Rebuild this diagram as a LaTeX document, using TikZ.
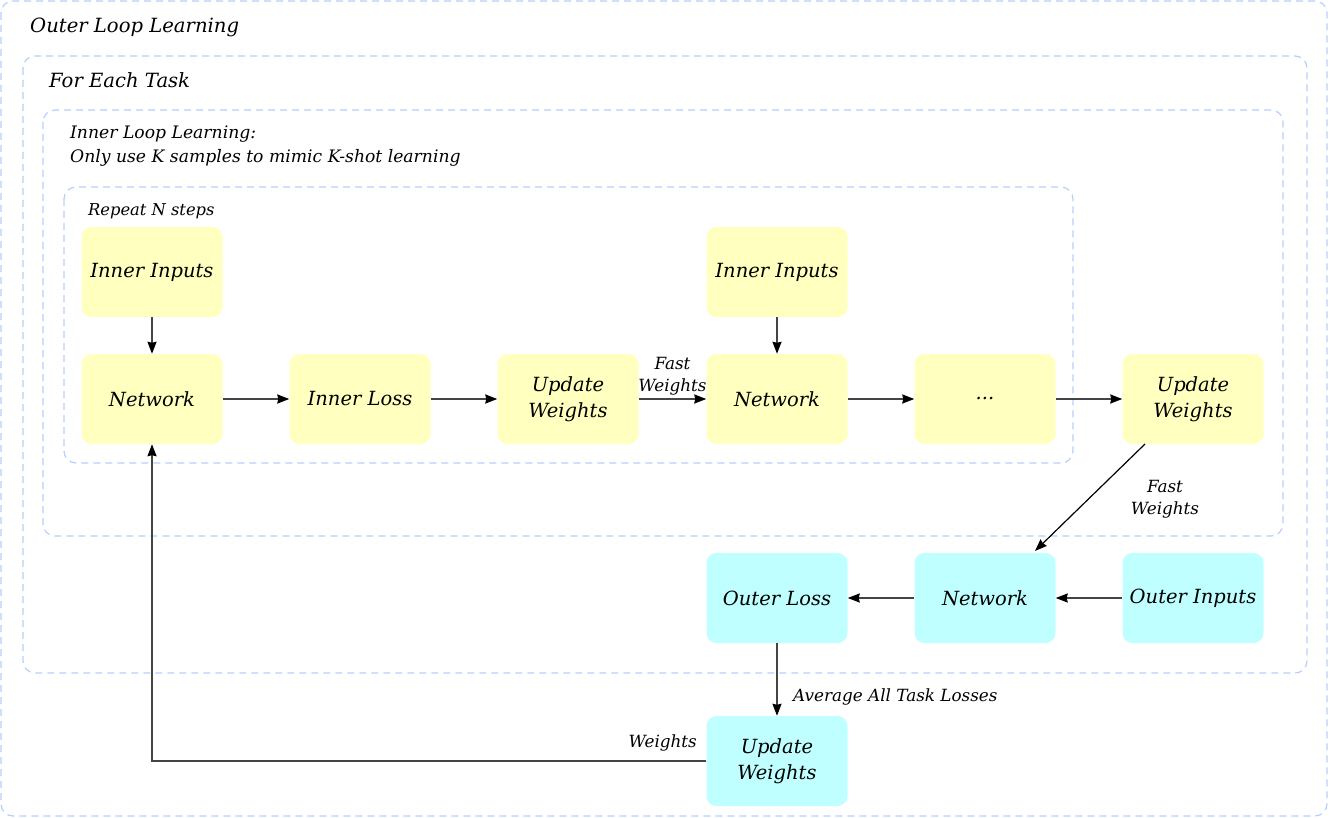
\documentclass[tikz,border=0pt]{standalone}
\usepackage{fontspec}
\setmainfont{DejaVu Serif}
\usetikzlibrary{arrows.meta}
\definecolor{dashblue}{HTML}{B3D0FA}
\definecolor{yel}{HTML}{FFFFC0}
\definecolor{cya}{HTML}{C0FFFF}
\definecolor{ln}{HTML}{444444}
\tikzset{
  container/.style={draw=dashblue, line width=1.2pt, dash pattern=on 7pt off 5pt, rounded corners=12pt},
  ybox/.style={fill=yel, rounded corners=10pt, minimum width=141pt, minimum height=90pt, inner sep=0pt, align=center, font=\fontsize{19.5}{26}\selectfont\itshape},
  cbox/.style={ybox, fill=cya},
  arr/.style={draw=ln, line width=1.6pt, -{Stealth[length=12pt,width=9pt,inset=1pt,color=black]}},
  lbl/.style={font=\fontsize{16.8}{22}\selectfont\itshape, align=center, inner sep=0pt},
  ttl/.style={anchor=base west, inner sep=0pt}
}
\begin{document}
\begin{tikzpicture}[x=1pt,y=-1pt]
\useasboundingbox (0,0) rectangle (1329,818);
\draw[container] (1,1) rectangle (1327,816);
\draw[container] (23,56) rectangle (1307,673);
\draw[container] (43,110) rectangle (1283,536);
\draw[container] (64,187) rectangle (1073,463);
\node[ttl, font=\fontsize{19.6}{24}\selectfont\itshape] (t1) at (30,33) {Outer Loop Learning};
\node[ttl, font=\fontsize{19.6}{24}\selectfont\itshape] (t2) at (49,88) {For Each Task};
\node[ttl, font=\fontsize{17.2}{22}\selectfont\itshape] (t3) at (70,139) {Inner Loop Learning:};
\node[ttl, font=\fontsize{17.2}{22}\selectfont\itshape] (t4) at (70,163) {Only use K samples to mimic K-shot learning};
\node[ttl, font=\fontsize{16.3}{20}\selectfont\itshape] (t5) at (88,216) {Repeat N steps};

\node[ybox] (ii1) at (152,272) {Inner Inputs};
\node[ybox] (n1) at (152,399) {Network};
\node[ybox] (il) at (360,399) {Inner Loss};
\node[ybox] (uw1) at (568,399) {Update\\Weights};
\node[ybox] (ii2) at (777,272) {Inner Inputs};
\node[ybox] (n2) at (777,399) {Network};
\node[ybox] (dots) at (985,399) {...};
\node[ybox] (uw2) at (1193,399) {Update\\Weights};
\node[cbox] (ol) at (777,598) {Outer Loss};
\node[cbox] (n3) at (985,598) {Network};
\node[cbox] (oi) at (1193,598) {Outer Inputs};
\node[cbox] (uw3) at (777,761) {Update\\Weights};

\draw[arr] (ii1) -- (n1);
\draw[arr] (n1) -- (il);
\draw[arr] (il) -- (uw1);
\draw[arr] (uw1) -- node[lbl, above=3pt] {Fast\\Weights} (n2);
\draw[arr] (ii2) -- (n2);
\draw[arr] (n2) -- (dots);
\draw[arr] (dots) -- (uw2);
\coordinate (a1) at (1145,444);
\coordinate (a2) at (1035,551);
\draw[arr, draw=black, line width=1.2pt] (a1) -- (a2);
\node[lbl] (fw2) at (1165,499) {Fast\\Weights};
\draw[arr] (oi) -- (n3);
\draw[arr] (n3) -- (ol);
\draw[arr] (ol) -- (uw3);
\node[lbl, anchor=west] (avg) at (793,697) {Average All Task Losses};
\draw[arr] (uw3.west) -- (152,761) -- (n1.south);
\node[lbl, anchor=east] (wl) at (697,743) {Weights};
\end{tikzpicture}
\end{document}
